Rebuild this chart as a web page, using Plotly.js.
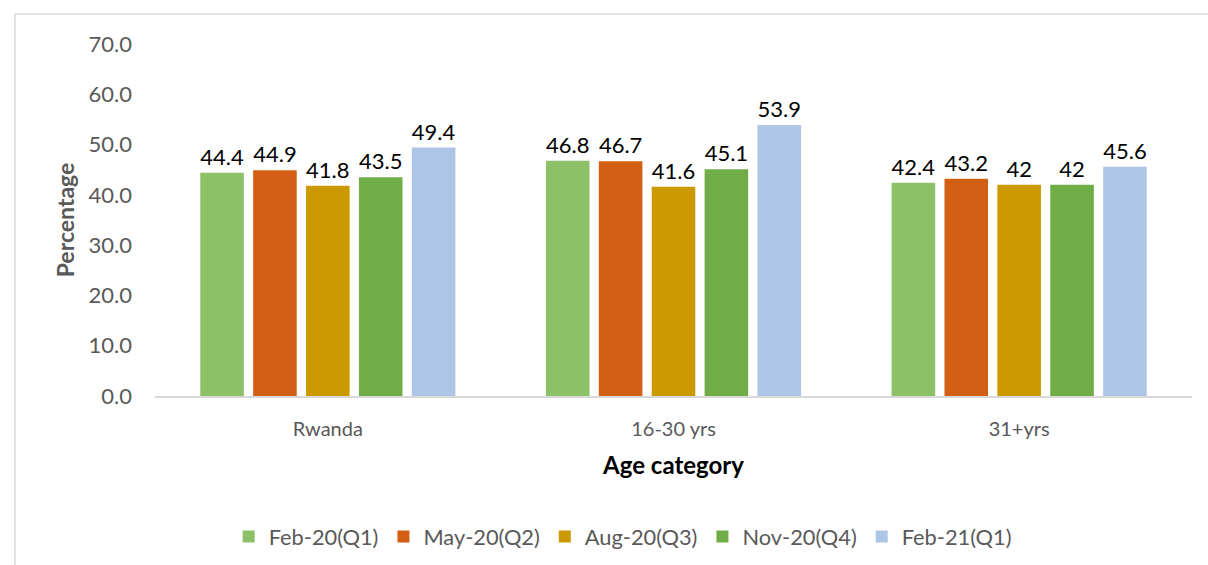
<!DOCTYPE html>
<html>
<head>
<meta charset="utf-8">
<script src="https://cdn.plot.ly/plotly-3.0.1.min.js"></script>
<style>html,body{margin:0;padding:0;background:#fff;}#chart{width:1208px;height:565px;}</style>
</head>
<body>
<div id="chart"></div>
<script>
const categories = ["Rwanda", "16-30 yrs", "31+yrs"];
const seriesNames = ["Feb-20(Q1)", "May-20(Q2)", "Aug-20(Q3)", "Nov-20(Q4)", "Feb-21(Q1)"];
const feb20 = [44.4, 46.8, 42.4];
const may20 = [44.9, 46.7, 43.2];
const aug20 = [41.8, 41.6, 42];
const nov20 = [43.5, 45.1, 42];
const feb21 = [49.4, 53.9, 45.6];
const seriesValues = [feb20, may20, aug20, nov20, feb21];
const colors = ["#8CC168", "#D35F14", "#CC9A00", "#70AD47", "#ADC6E6"];

const traces = seriesValues.map((vals, i) => ({
  type: "bar",
  name: seriesNames[i],
  x: categories,
  y: vals,
  text: vals.map(v => String(v)),
  textposition: "outside",
  cliponaxis: false,
  textfont: {family: "Lato, sans-serif", size: 22, color: "#000000"},
  marker: {color: colors[i]},
  hoverinfo: "none"
}));

const layout = {
  width: 1208, height: 565,
  margin: {l: 155, r: 16, t: 44, b: 169, autoexpand: false},
  paper_bgcolor: "#ffffff", plot_bgcolor: "#ffffff",
  barmode: "group", bargap: 0.235, bargroupgap: 0.176,
  font: {family: "Lato, sans-serif", color: "#595959"},
  xaxis: {
    showline: true, linecolor: "#d9d9d9", linewidth: 2,
    ticks: "", tickfont: {size: 20, color: "#595959"}, ticklabelstandoff: 14,
    showgrid: false, zeroline: false, automargin: false,
    title: {text: "<b>Age category</b>", font: {size: 24, color: "#000000"}, standoff: 18}
  },
  yaxis: {
    range: [0, 70], dtick: 10, tickformat: ".1f",
    showgrid: false, zeroline: false, showline: false, ticks: "", automargin: false,
    tickfont: {size: 22, color: "#595959"}, ticklabelstandoff: 22,
    title: {text: "<b>Percentage</b>", font: {size: 23, color: "#595959"}, standoff: 7}
  },
  showlegend: true,
  legend: {
    orientation: "h", x: 0.451, xanchor: "center", y: -0.40, yanchor: "middle",
    font: {size: 21.8, color: "#595959"}, traceorder: "normal", itemwidth: 30
  },
  shapes: [{
    type: "rect", xref: "paper", yref: "paper",
    x0: -0.135, x1: 1.2, y0: -0.6, y1: 1.085,
    line: {color: "#d9d9d9", width: 1.5}, fillcolor: "rgba(0,0,0,0)", layer: "below"
  }]
};

Plotly.newPlot("chart", traces, layout, {displayModeBar: false, staticPlot: true});
</script>
</body>
</html>
